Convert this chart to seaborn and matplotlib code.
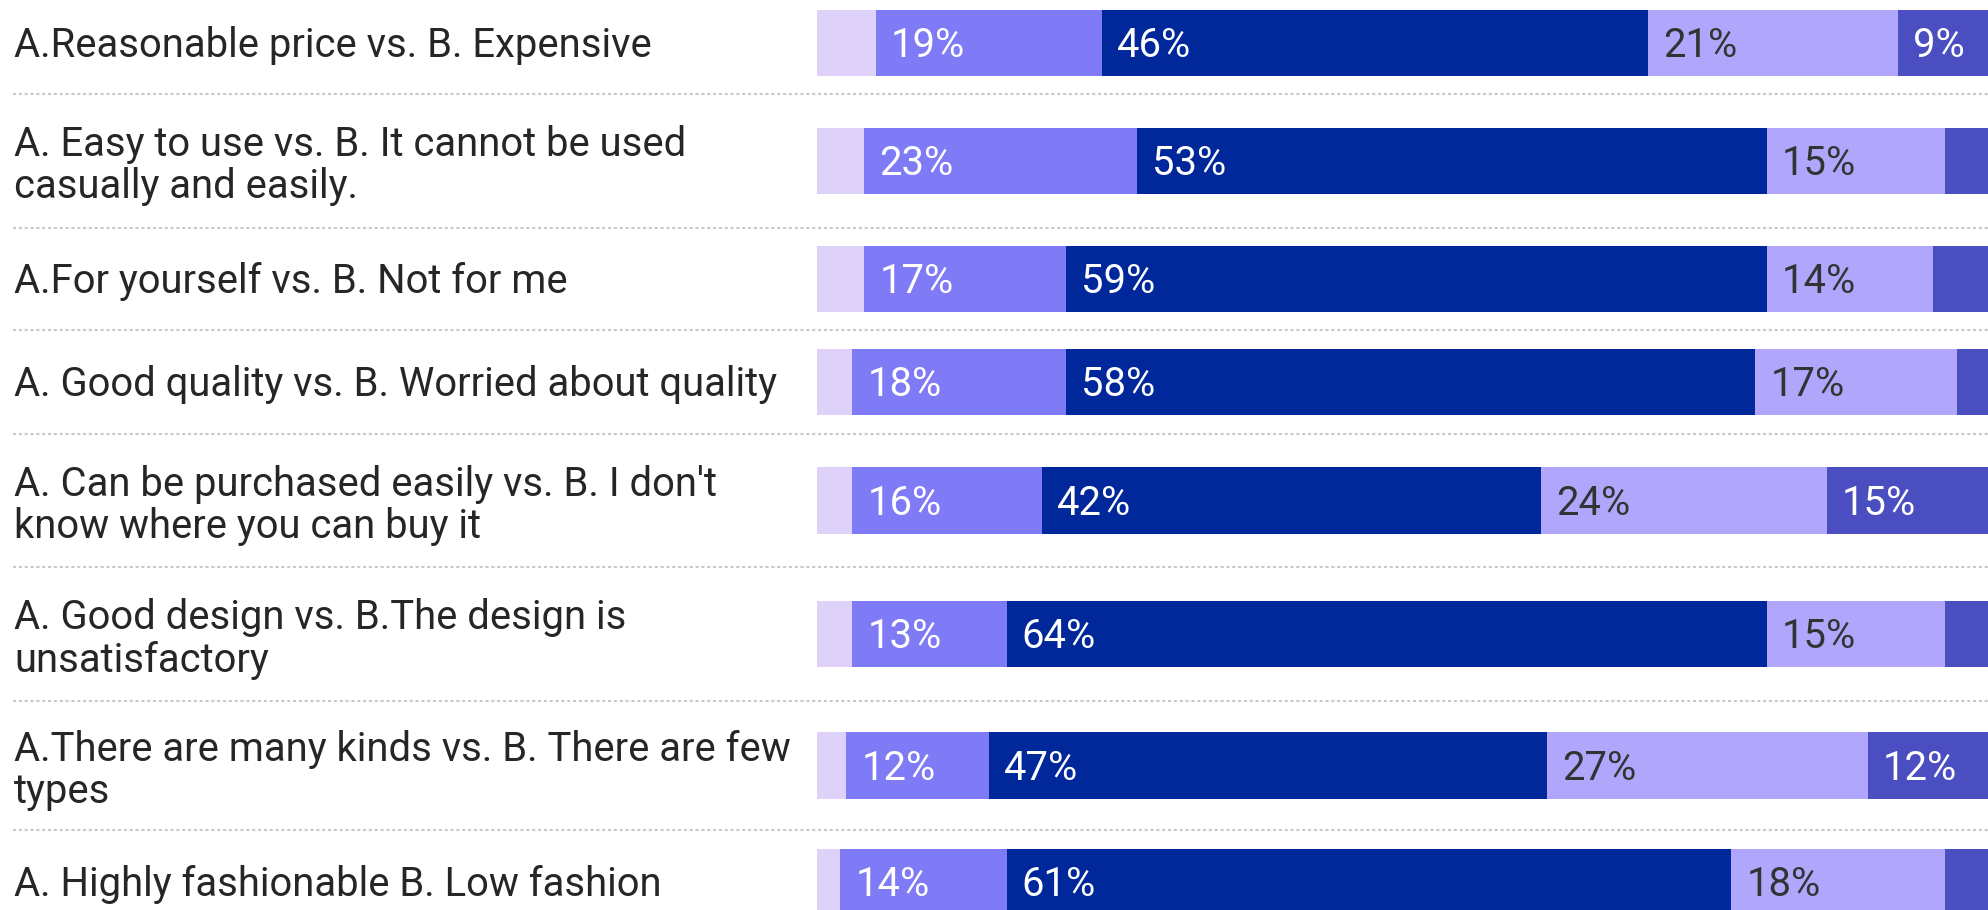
import numpy as np
import pandas as pd
import matplotlib
matplotlib.use("Agg")
import matplotlib.pyplot as plt
import seaborn as sns

sns.set_theme(style="white")
plt.rcParams["font.family"] = ["Roboto", "DejaVu Sans"]

# ---- data -------------------------------------------------------------
items = [
    "A.Reasonable price vs. B. Expensive",
    "A. Easy to use vs. B. It cannot be used\ncasually and easily.",
    "A.For yourself vs. B. Not for me",
    "A. Good quality vs. B. Worried about quality",
    "A. Can be purchased easily vs. B. I don't\nknow where you can buy it",
    "A. Good design vs. B.The design is\nunsatisfactory",
    "A.There are many kinds vs. B. There are few\ntypes",
    "A. Highly fashionable B. Low fashion",
]

# answer shares per item (%), in stacking order from left to right
seg_1 = [5, 4, 4, 3, 3, 3, 2.5, 2]
seg_2 = [19, 23, 17, 18, 16, 13, 12, 14]
seg_3 = [46, 53, 59, 58, 42, 64, 47, 61]
seg_4 = [21, 15, 14, 17, 24, 15, 27, 18]
seg_5 = [9, 5, 6, 4, 15, 5, 12, 5]

# ---- layout / style ---------------------------------------------------
FIG_W, FIG_H = 1988, 910
BAR_X0 = 816.7          # pixel column of the 0 % baseline
PX_PER_PCT = 11.88      # horizontal pixels per percentage point
ROW_EDGES = [-8.3, 94.3, 227.7, 330.0, 434.0, 567.3, 700.7, 830.3, 933.7]
BAR_PX = 66.7
LINE_PX = 49            # distance between wrapped label lines
LABEL_MIN = 8           # smaller segments stay unlabeled

seg_colors = ["#DED2FB", "#7F7AF6", "#00289A", "#B0A6FC", "#4A4EC0"]
txt_colors = ["#333333", "#FFFFFF", "#FFFFFF", "#333333", "#FFFFFF"]
FONT_SIZE = 28.8

segments = np.array([seg_1, seg_2, seg_3, seg_4, seg_5], dtype=float)
ends = np.cumsum(segments, axis=0)
starts = ends - segments

edges = np.array(ROW_EDGES)
centers = (edges[:-1] + edges[1:]) / 2
bar_width = BAR_PX / np.min(np.diff(centers))

fig = plt.figure(figsize=(FIG_W / 100, FIG_H / 100), dpi=100)
ax = fig.add_axes([0, 0, 1, 1])

df = pd.DataFrame({"item": items, "pos": centers})

# stacked bars: draw cumulative totals, widest first
for k in reversed(range(len(segments))):
    df["end"] = ends[k]
    sns.barplot(
        data=df, x="end", y="pos", orient="y", native_scale=True,
        color=seg_colors[k], saturation=1, width=bar_width,
        errorbar=None, linewidth=0, ax=ax,
    )

ax.set_xlim(-BAR_X0 / PX_PER_PCT, (FIG_W - BAR_X0) / PX_PER_PCT)
ax.set_ylim(FIG_H, 0)
ax.set_axis_off()

# dotted separators between rows
for y in ROW_EDGES[1:-1]:
    ax.axhline(y, xmin=13.3 / FIG_W, xmax=1, color="#C9C9C9", lw=1.5,
               linestyle=(0, (1.5, 1.3)), zorder=0)

# item labels on the left (baseline of the last line is anchored)
ytrans = ax.get_yaxis_transform()
for label, c in zip(items, centers):
    n_lines = label.count("\n") + 1
    base = c + 14.3 if n_lines == 1 else c - 11.5 + LINE_PX
    ax.text(14 / FIG_W, base, label, transform=ytrans, ha="left",
            va="baseline", fontsize=FONT_SIZE, color="#262626",
            linespacing=1.10)

# percentage labels inside the segments
for k in range(len(segments)):
    for i in range(len(items)):
        v = segments[k, i]
        if v < LABEL_MIN:
            continue
        ax.annotate(f"{v:.0f}%", xy=(starts[k, i], centers[i] + 14.3),
                    xytext=(10.8, 0), textcoords="offset points",
                    ha="left", va="baseline", fontsize=FONT_SIZE,
                    color=txt_colors[k])

fig.savefig("out.png", dpi=100)
